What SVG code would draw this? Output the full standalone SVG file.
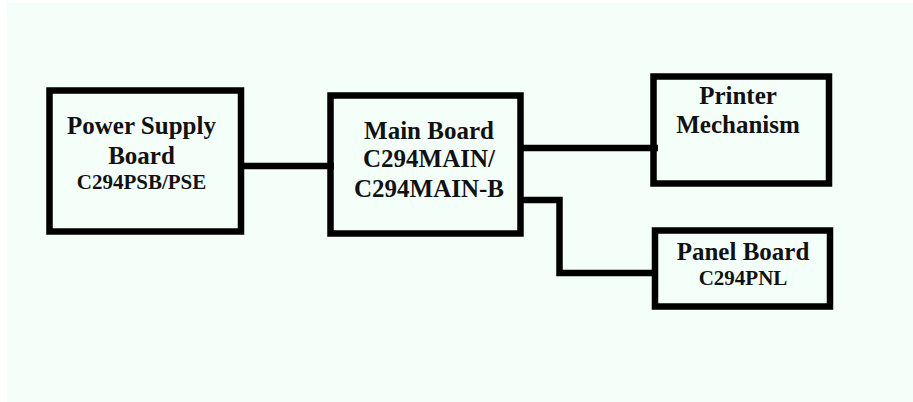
<svg xmlns="http://www.w3.org/2000/svg" width="913" height="402" viewBox="0 0 913 402">
<style>
.box{fill:none;stroke:#000;stroke-width:6.5}
.wire{fill:none;stroke:#000;stroke-width:6.5;stroke-linejoin:miter;stroke-linecap:butt}
text{font-family:"Liberation Serif","Times New Roman",serif;font-weight:bold;fill:#111;text-anchor:middle}
.t25{font-size:25px}
.t21{font-size:21px}
</style>
<rect x="0" y="0" width="913" height="402" fill="#ffffff"/>
<rect x="7" y="3" width="906" height="399" fill="#f5fffa"/>
<g id="connectors">
<line class="wire" x1="243" y1="166" x2="334" y2="166"/>
<line class="wire" x1="521" y1="148" x2="658" y2="148"/>
<polyline class="wire" points="521,200 559.5,200 559.5,273 653,273"/>
</g>
<g id="power-supply">
<rect class="box" x="49.5" y="90.5" width="191.5" height="141"/>
<text class="t25" x="141.5" y="133.5">Power Supply</text>
<text class="t25" x="141.5" y="163.5">Board</text>
<text class="t21" x="141.5" y="188.5">C294PSB/PSE</text>
</g>
<g id="main-board">
<rect class="box" x="330.5" y="95.5" width="190" height="138"/>
<text class="t25" x="429" y="138.5">Main Board</text>
<text class="t25" x="429" y="166.5">C294MAIN/</text>
<text class="t25" x="429" y="196.5">C294MAIN-B</text>
</g>
<g id="printer">
<rect class="box" x="653.5" y="76.5" width="175.5" height="107"/>
<text class="t25" x="738" y="104">Printer</text>
<text class="t25" x="738" y="133">Mechanism</text>
</g>
<g id="panel-board">
<rect class="box" x="655" y="230.5" width="175" height="76"/>
<text class="t25" x="743" y="260">Panel Board</text>
<text class="t21" x="743" y="285">C294PNL</text>
</g>
</svg>
